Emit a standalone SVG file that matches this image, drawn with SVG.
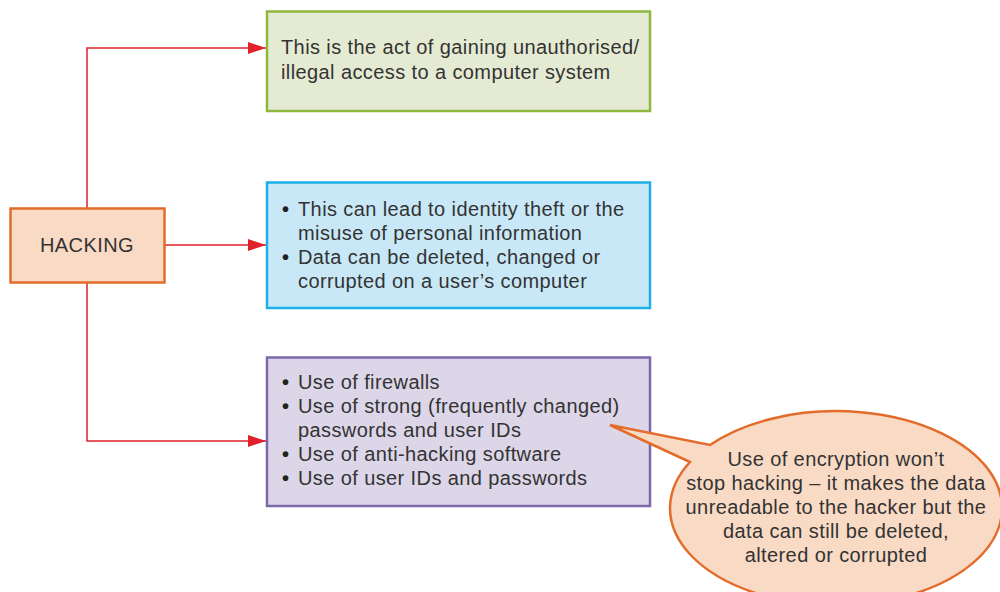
<svg xmlns="http://www.w3.org/2000/svg" width="1000" height="592" viewBox="0 0 1000 592">
<defs>
<style>
.t{font-family:"Liberation Sans","Arial",sans-serif;font-size:20px;letter-spacing:0.4px;fill:#333333}
.b{font-weight:bold;fill:#222222}
.c{fill:none;stroke:#E0202A;stroke-width:1.5}
</style>
<marker id="ar" viewBox="0 0 18 12" markerWidth="18" markerHeight="12" refX="18" refY="6" orient="auto" markerUnits="userSpaceOnUse"><path d="M0,0 L18,6 L0,12 Z" fill="#E0202A"/></marker>
</defs>
<rect width="1000" height="592" fill="#ffffff"/>
<g id="connectors">
<path class="c" d="M87,208 V48 H266" marker-end="url(#ar)"/>
<path class="c" d="M164,245 H266" marker-end="url(#ar)"/>
<path class="c" d="M87,282 V441 H266" marker-end="url(#ar)"/>
</g>
<g id="hacking">
<rect x="10.5" y="208.5" width="154" height="74" fill="#F9DAC5" stroke="#E46C2B" stroke-width="2.5"/>
<text class="t" x="87" y="252" text-anchor="middle">HACKING</text>
</g>
<g id="definition">
<rect x="267" y="11.5" width="383" height="99.5" fill="#E5EBD3" stroke="#8DB83C" stroke-width="2.5"/>
<text class="t" x="281" y="54">This is the act of gaining unauthorised/</text>
<text class="t" x="281" y="79">illegal access to a computer system</text>
</g>
<g id="effects">
<rect x="267" y="182.5" width="383" height="125.5" fill="#C8E8F7" stroke="#1BB0E8" stroke-width="2.5"/>
<text class="t" x="282" y="216"><tspan class="b">•</tspan><tspan x="298">This can lead to identity theft or the</tspan></text>
<text class="t" x="298" y="240">misuse of personal information</text>
<text class="t" x="282" y="264"><tspan class="b">•</tspan><tspan x="298">Data can be deleted, changed or</tspan></text>
<text class="t" x="298" y="288">corrupted on a user’s computer</text>
</g>
<g id="prevention">
<rect x="267" y="357.5" width="383" height="148.5" fill="#DCD6E8" stroke="#7C68AA" stroke-width="2.5"/>
<text class="t" x="282" y="389"><tspan class="b">•</tspan><tspan x="298">Use of firewalls</tspan></text>
<text class="t" x="282" y="413"><tspan class="b">•</tspan><tspan x="298">Use of strong (frequently changed)</tspan></text>
<text class="t" x="298" y="437">passwords and user IDs</text>
<text class="t" x="282" y="461"><tspan class="b">•</tspan><tspan x="298">Use of anti-hacking software</tspan></text>
<text class="t" x="282" y="485"><tspan class="b">•</tspan><tspan x="298">Use of user IDs and passwords</tspan></text>
</g>
<g id="callout">
<path d="M710,445 A166 97 0 1 1 690,462 L610,425 Z" fill="#F9DAC5" stroke="#E46C2B" stroke-width="2.5" stroke-linejoin="miter"/>
<g text-anchor="middle">
<text class="t" x="836" y="466">Use of encryption won’t</text>
<text class="t" x="836" y="490">stop hacking – it makes the data</text>
<text class="t" x="836" y="514">unreadable to the hacker but the</text>
<text class="t" x="836" y="538">data can still be deleted,</text>
<text class="t" x="836" y="562">altered or corrupted</text>
</g>
</g>
</svg>
